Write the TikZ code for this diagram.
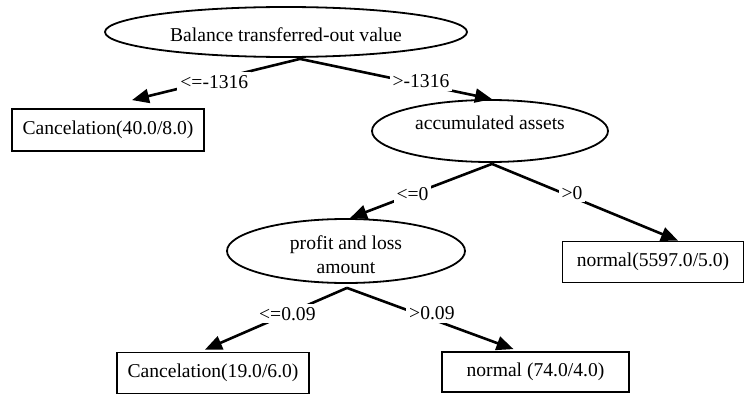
\documentclass[tikz,border=0pt]{standalone}
\usepackage{fontspec}
\setmainfont{Liberation Serif}
\usetikzlibrary{shapes.geometric,arrows.meta}
\begin{document}
\begin{tikzpicture}[x=1pt,y=-1pt,
  font=\fontsize{19.6}{24}\selectfont,
  attr/.style={ellipse,draw,line width=1.8pt,inner sep=0pt},
  leaf/.style={rectangle,draw,line width=1.8pt,inner sep=0pt},
  edge/.style={line width=2.6pt,-{Triangle[length=17pt,width=14pt]}},
  lbl/.style={fill=white,inner sep=3pt}]
\useasboundingbox (0,0) rectangle (747,396);
\fill[white] (0,0) rectangle (747,396);
\node[attr,minimum width=362pt,minimum height=50pt,text height=19pt,text depth=0pt] (root) at (286,32) {Balance transferred-out value};
\node[leaf,minimum width=192pt,minimum height=42pt] (c1) at (108,130) {Cancelation(40.0/8.0)};
\node[attr,minimum width=236pt,minimum height=62pt,text height=12pt,text depth=15pt] (acc) at (490,131) {accumulated assets};
\node[attr,minimum width=238pt,minimum height=64pt,align=center,text height=45pt,text depth=0pt] (prof) at (346,251) {profit and loss\\amount};
\node[leaf,minimum width=181pt,minimum height=41pt] (n1) at (653,262) {normal(5597.0/5.0)};
\node[leaf,minimum width=192pt,minimum height=41pt] (c2) at (213,373) {Cancelation(19.0/6.0)};
\node[leaf,minimum width=187pt,minimum height=40pt] (n2) at (535.5,372) {normal (74.0/4.0)};
\draw[edge] ([xshift=14pt,yshift=-1pt]root.south) -- ([xshift=24pt,yshift=8pt]c1.north) node[lbl,pos=0.51,yshift=-2pt] (l1) {<=-1316};
\draw[edge] ([xshift=14pt,yshift=-1pt]root.south) -- ([xshift=2pt]acc.north) node[lbl,pos=0.63,yshift=3pt] (l2) {>-1316};
\draw[edge] ([xshift=2pt,yshift=-1pt]acc.south) -- ([xshift=4pt]prof.north) node[lbl,pos=0.56] (l3) {<=0};
\draw[edge] ([xshift=2pt,yshift=-1pt]acc.south) -- ([xshift=25pt]n1.north) node[lbl,pos=0.43,yshift=4pt] (l4) {>0};
\draw[edge] ([xshift=1pt,yshift=-4pt]prof.south) -- ([xshift=-8pt,yshift=2pt]c2.north) node[lbl,pos=0.42] (l5) {<=0.09};
\draw[edge] ([xshift=1pt,yshift=-4pt]prof.south) -- ([xshift=-22pt,yshift=2pt]n2.north) node[lbl,pos=0.51,yshift=6pt] (l6) {>0.09};
\end{tikzpicture}
\end{document}
